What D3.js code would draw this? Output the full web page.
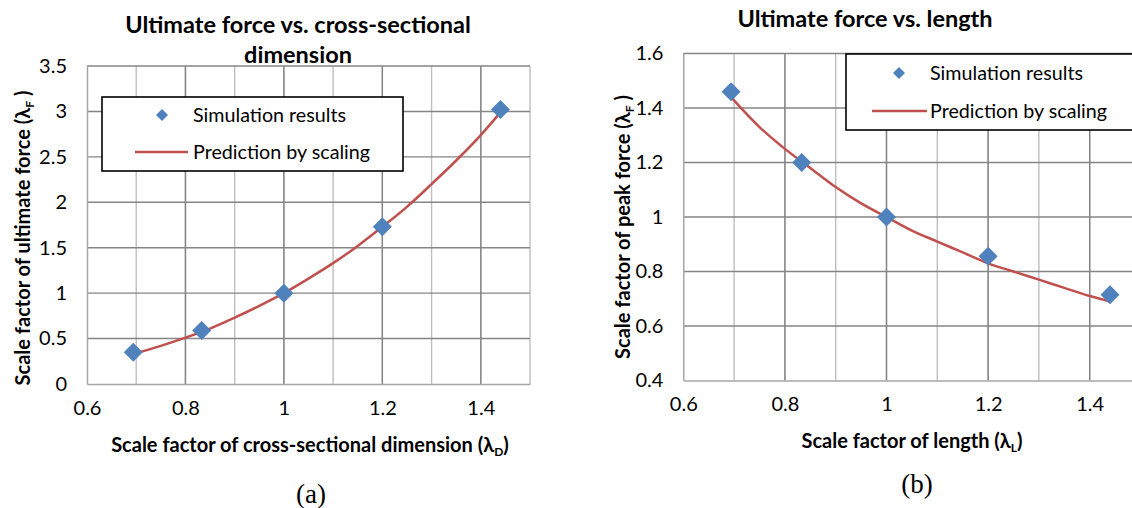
<!DOCTYPE html>
<html>
<head>
<meta charset="utf-8">
<script src="https://cdn.jsdelivr.net/npm/d3@7"></script>
<style>
  body { margin: 0; background: #fff; }
  svg { display: block; }
  text { font-family: Lato, "Open Sans", sans-serif; fill: #000; }
</style>
</head>
<body>
<svg id="chart" width="1132" height="508"></svg>
<script>
// scale factors used in the simulations
const lambdas = [0.694, 0.833, 1, 1.2, 1.44];
const simForceA = [0.35, 0.59, 1.0, 1.73, 3.02];   // (a) ultimate force
const simForceB = [1.46, 1.2, 1.0, 0.856, 0.715];  // (b) peak force

// prediction curves
const curveX = [0.694, 0.75, 0.8, 0.85, 0.9, 0.95, 1.0, 1.05, 1.1, 1.15, 1.2, 1.25, 1.3, 1.35, 1.4, 1.44];
const predA = [0.33, 0.42, 0.51, 0.61, 0.73, 0.86, 1.0, 1.16, 1.33, 1.52, 1.73, 1.95, 2.2, 2.46, 2.74, 2.99];
const predB = [1.44, 1.33, 1.25, 1.18, 1.11, 1.05, 1.0, 0.95, 0.91, 0.87, 0.83, 0.8, 0.77, 0.74, 0.71, 0.69];

const xTicks = [0.6, 0.8, 1, 1.2, 1.4];
const yTicksA = [0, 0.5, 1, 1.5, 2, 2.5, 3, 3.5];
const yTicksB = [0.4, 0.6, 0.8, 1, 1.2, 1.4, 1.6];

const blue = '#4f81bd', red = '#c0504d';
const svg = d3.select('#chart');

function diamond(sel, x, y, r) {
  sel.append('path')
    .attr('d', `M${x},${y - r}L${x + r},${y}L${x},${y + r}L${x - r},${y}Z`)
    .attr('fill', blue);
}

function drawPanel(p) {
  const x = d3.scaleLinear().domain([0.6, 1.5]).range(p.xRange);
  const y = d3.scaleLinear().domain(p.yDomain).range(p.yRange);
  const g = svg.append('g');

  // minor vertical grid (every 0.1)
  g.selectAll('.minor').data(d3.range(0.7, 1.55, 0.1))
    .join('line')
    .attr('x1', d => x(d)).attr('x2', d => x(d))
    .attr('y1', p.yRange[0]).attr('y2', p.yRange[1])
    .attr('stroke', '#bfbfbf').attr('stroke-width', 1.4);
  // major vertical grid
  g.selectAll('.majorx').data(xTicks.slice(1))
    .join('line')
    .attr('x1', d => x(d)).attr('x2', d => x(d))
    .attr('y1', p.yRange[0]).attr('y2', p.yRange[1])
    .attr('stroke', '#858585').attr('stroke-width', 1.4);
  // horizontal grid
  g.selectAll('.majory').data(p.yTicks.slice(1))
    .join('line')
    .attr('x1', p.xRange[0]).attr('x2', p.xRange[1])
    .attr('y1', d => y(d)).attr('y2', d => y(d))
    .attr('stroke', '#858585').attr('stroke-width', 1.4);

  // axes
  const xAxis = g.append('g')
    .attr('transform', `translate(0,${p.yRange[0]})`)
    .call(d3.axisBottom(x).tickValues(xTicks).tickSize(0).tickPadding(p.xPad).tickFormat(d3.format('')));
  xAxis.select('.domain').attr('stroke', '#a6a6a6').attr('stroke-width', 1.5);
  xAxis.selectAll('text').attr('font-size', 20).attr('font-family', 'Lato');

  const yAxis = g.append('g')
    .attr('transform', `translate(${p.xRange[0]},0)`)
    .call(d3.axisLeft(y).tickValues(p.yTicks).tickSize(0).tickPadding(20).tickFormat(d3.format('')));
  yAxis.select('.domain').attr('stroke', '#a6a6a6').attr('stroke-width', 1.5);
  yAxis.selectAll('text').attr('font-size', 20).attr('font-family', 'Lato');

  // prediction curve
  const line = d3.line()
    .x((d, i) => x(curveX[i]))
    .y(d => y(d))
    .curve(d3.curveMonotoneX);
  g.append('path').datum(p.pred)
    .attr('d', line)
    .attr('fill', 'none').attr('stroke', red).attr('stroke-width', 2.5);

  // simulation points
  p.sim.forEach((v, i) => diamond(g, x(lambdas[i]), y(v), 9.5));

  // legend
  const lg = g.append('g').attr('transform', `translate(${p.legend[0]},${p.legend[1]})`);
  lg.append('rect')
    .attr('width', p.legendW).attr('height', p.legendH)
    .attr('fill', '#fff').attr('stroke', '#000').attr('stroke-width', 1.6);
  diamond(lg, p.legDia, p.legRows[0], 6);
  lg.append('text').attr('x', p.legText).attr('y', p.legRows[0] + 7)
    .attr('font-size', 19.7).text('Simulation results');
  lg.append('line')
    .attr('x1', p.legLine[0]).attr('x2', p.legLine[1])
    .attr('y1', p.legRows[1]).attr('y2', p.legRows[1])
    .attr('stroke', red).attr('stroke-width', 2.5);
  lg.append('text').attr('x', p.legText).attr('y', p.legRows[1] + 7)
    .attr('font-size', 19.7).text('Prediction by scaling');

  // titles
  p.title.forEach((t, i) => {
    svg.append('text')
      .attr('x', p.titleX).attr('y', p.titleY + i * 30)
      .attr('text-anchor', 'middle').attr('font-weight', 'bold').attr('font-size', 23.5)
      .text(t);
  });

  const xt = svg.append('text')
    .attr('x', p.xTitle[0]).attr('y', p.xTitle[1])
    .attr('text-anchor', 'middle').attr('font-weight', 'bold').attr('font-size', 20);
  xt.append('tspan').text(p.xLabel + ' (λ');
  xt.append('tspan').attr('font-size', 12).attr('dy', 4).text(p.xSub);
  xt.append('tspan').attr('dy', -4).text(')');

  const yt = svg.append('text')
    .attr('transform', `translate(${p.yTitle[0]},${p.yTitle[1]}) rotate(-90)`)
    .attr('text-anchor', 'middle').attr('font-weight', 'bold').attr('font-size', 20);
  yt.append('tspan').text(p.yLabel + ' (λ');
  yt.append('tspan').attr('font-size', 12).attr('dy', 4).text('F');
  yt.append('tspan').attr('dy', -4).text(' )');

  svg.append('text')
    .attr('x', p.caption[0]).attr('y', p.caption[1])
    .attr('text-anchor', 'middle')
    .style('font-family', '"Liberation Serif", "Times New Roman", serif')
    .attr('font-size', 27).text(p.captionText);
}

drawPanel({
  xRange: [87, 530], yDomain: [0, 3.5], yRange: [384, 66], yTicks: yTicksA, xPad: 17,
  pred: predA, sim: simForceA,
  legend: [102, 97], legendW: 301, legendH: 74, legDia: 60, legRows: [18, 55], legText: 91, legLine: [33, 86],
  title: ['Ultimate force vs. cross-sectional', 'dimension'], titleX: 298, titleY: 33,
  xLabel: 'Scale factor of cross-sectional dimension', xSub: 'D', xTitle: [310, 452],
  yLabel: 'Scale factor of ultimate force', yTitle: [30, 238],
  caption: [311, 503], captionText: '(a)'
});

drawPanel({
  xRange: [683.3, 1140.5], yDomain: [0.4, 1.6], yRange: [380.5, 53.5], yTicks: yTicksB, xPad: 16,
  pred: predB, sim: simForceB,
  legend: [846, 54], legendW: 320, legendH: 76, legDia: 53, legRows: [19, 57], legText: 84, legLine: [26, 81],
  title: ['Ultimate force vs. length'], titleX: 865, titleY: 27,
  xLabel: 'Scale factor of length', xSub: 'L', xTitle: [912, 448],
  yLabel: 'Scale factor of peak force', yTitle: [630, 227],
  caption: [917, 493], captionText: '(b)'
});
</script>
</body>
</html>
